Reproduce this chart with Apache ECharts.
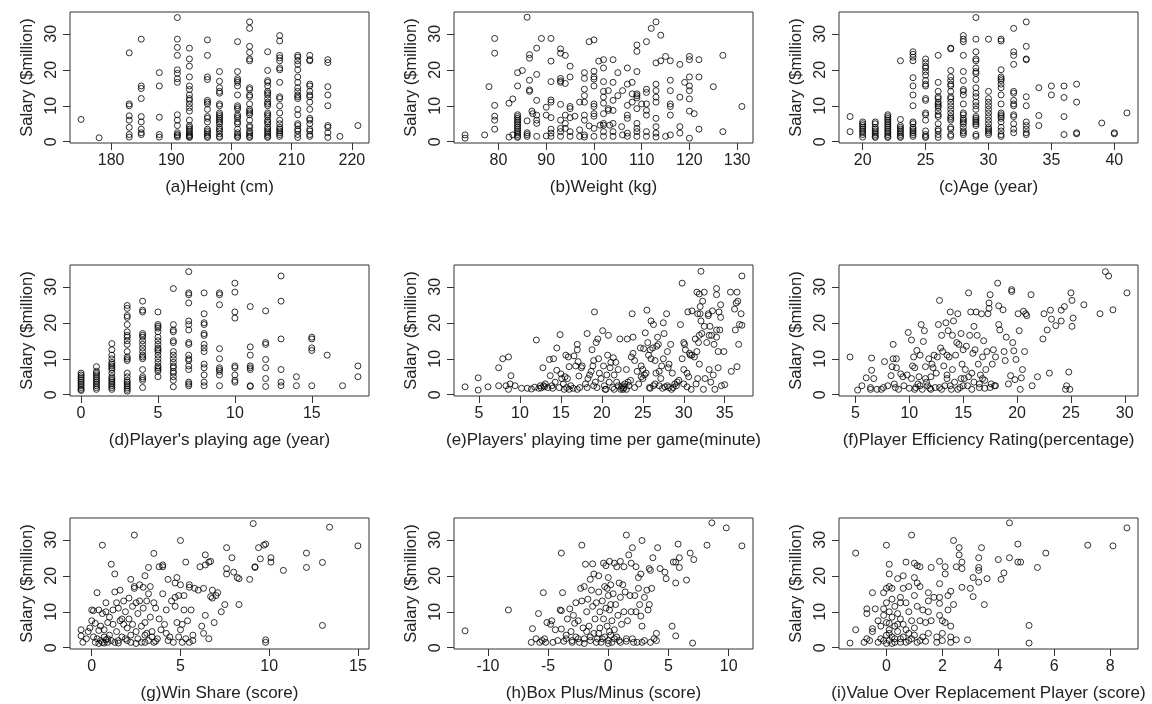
<!DOCTYPE html>
<html>
<head>
<meta charset="utf-8">
<script src="https://cdn.jsdelivr.net/npm/echarts@6/dist/echarts.min.js"></script>
<style>
html, body { margin: 0; padding: 0; background: #fff; }
#main { width: 1152px; height: 704px; }
</style>
</head>
<body>
<div id="main"></div>
<script>
// discrete columns: [x, [salaries...]]
var heightCols = [
  [175, [6.2]], [178, [1.1]],
  [183, [24.7, 10.5, 10, 7.2, 6, 4, 2, 1.3]],
  [185, [28.5, 15.5, 14.8, 12, 7, 5.5, 3.5, 2.5, 2]],
  [188, [19.2, 15.5, 6.8, 2, 1.3]],
  [191, [34.5, 28.5, 26.2, 24, 20, 19, 17.5, 16.5, 7.5, 6, 4.5, 2.5, 2, 1.7, 1.3]],
  [193, [26, 23, 21, 18, 15.5, 14.5, 13, 12, 11.5, 10.5, 9.5, 8.5, 6, 4.5, 4, 3.5, 3, 2.5, 2, 1.7, 1.4, 1.2]],
  [196, [28.3, 24, 18, 17.3, 11.5, 11, 10.5, 9, 7, 6.5, 5.5, 3.5, 3, 2.5, 2, 1.5, 1.2]],
  [198, [19.5, 16.8, 15, 14, 13.5, 10.5, 10, 8, 7.5, 7, 6.5, 6, 5.5, 5, 4, 3.5, 3, 2.2, 1.5, 1.2]],
  [201, [27.8, 19.5, 17.5, 17, 16.5, 15.5, 13, 10, 9.5, 9, 7.5, 7, 6.5, 5.5, 5, 3.5, 2.5, 2, 1.5, 1.2]],
  [203, [33.3, 31.5, 26.5, 24.8, 23, 22.5, 15, 14.5, 13, 12.5, 10.5, 9, 8.5, 8, 7.5, 6, 4.5, 4, 3, 2.5, 2, 1.5, 1.2]],
  [206, [25, 19.8, 17, 16.5, 15.5, 14, 13.5, 13, 12, 11, 10.5, 10, 8, 7.5, 7, 6, 5.5, 5, 4, 3.5, 3, 2.5, 2, 1.5, 1.2]],
  [208, [29.5, 28, 24, 23.3, 22.5, 20.5, 20, 16.5, 12.5, 12, 10, 8, 6, 5, 4, 3.5, 3, 2.5, 2, 1.5]],
  [211, [24, 23.5, 22.5, 21.5, 20, 18, 16.5, 15, 14, 13, 12.5, 12, 9, 7.5, 5, 4.5, 3.5, 3, 2, 1.2]],
  [213, [24, 22.8, 22.5, 16, 15.5, 14, 13, 12.5, 11, 9, 6.5, 6, 5, 3.5, 3, 2, 1.5]],
  [216, [22.8, 22, 15.3, 13, 10, 4.5, 4, 2.5, 1.2]],
  [218, [1.5]], [221, [4.5]]
];

var weightPts = [
  [73, 1.9], [73, 1.0], [77.1, 1.9], [78, 15.3], [79.2, 28.7], [79.2, 24.6], [79.2, 10.1], [79.2, 7.1], [79.2, 6.0], [79.2, 3.5],
  [82.2, 1.3], [82.2, 10.7], [83, 11.9], [83, 1.9],
  [84, 7.5], [84, 7], [84, 6.5], [84, 6], [84, 5.5], [84, 5], [84, 4.5], [84, 4], [84, 3.5], [84, 3], [84, 2.5], [84, 2], [84, 1.5], [84, 1.2],
  [84, 19.2], [84, 15.5], [85, 19.8], [86, 34.6], [86.5, 24.2], [86.5, 23.2], [86.5, 17.1], [86.5, 14.4], [86.5, 14], [86, 5.8], [86, 2.5], [86, 2], [86, 1.5],
  [87, 8.5], [87.2, 7.8], [88, 26], [88, 18.7], [88, 11.5], [88, 7.4], [88, 6], [88, 5.1], [88, 1.5], [89, 28.7],
  [90, 9.6], [90, 7.4], [90, 1.6], [91, 28.7], [91, 22.4], [91, 16.7], [91, 11.6], [91, 11], [91, 6.7], [91, 3.5], [91, 1.5], [91, 2.4],
  [93, 25.8], [93, 24.6], [93, 17.6], [93, 16.9], [93, 16.5], [93, 10.4], [93, 6], [93, 3.7], [93, 2.8], [93, 1.5],
  [94, 24], [94, 16.2], [94, 7.4], [94, 5.1], [94, 3.7], [95, 21], [95, 18], [95, 9.8], [95, 9.2], [95, 6.7], [95, 2.8], [95, 1.5],
  [96, 7.1], [97, 3.3], [97, 1.5], [97, 11], [98, 19.2], [98, 17.6], [98, 14.6], [98, 12.8], [98, 11], [98, 7.4], [98, 6], [98, 1.9], [98, 1.3],
  [99, 27.8], [99, 4.4], [100, 28.3], [100, 19.6], [100, 18], [100, 17.4], [100, 15.5], [100, 10.5], [100, 9.8], [100, 7.8], [100, 7.1], [100, 3.7], [100, 1.5],
  [101, 22.4], [101.3, 4.6], [102, 22.8], [102, 20.5], [102, 16.7], [102, 14], [102, 12.4], [102, 10.7], [102, 7.8], [102, 5.1], [102, 4.6], [102, 1.5], [102, 2.8],
  [103, 14.2], [103, 9.2], [103, 8.7], [103.3, 4.6], [104, 22.8], [104, 16.5], [104, 11.5], [104, 8.7], [104, 5.1], [104, 2.8], [104, 1.5],
  [105, 19.2], [105, 12.8], [105.8, 4.2], [106, 14.2], [106, 1.9], [107, 20.5], [107, 16], [107, 10.1], [107, 7.4], [107, 6.5], [107, 2.4], [107, 1.5],
  [108, 16.5], [108, 11], [108, 13.3], [109, 26.9], [109, 25.1], [109, 19.5], [109, 12.8], [109, 12.2], [109, 9.2], [109, 13.3], [109, 5.1], [109, 3.7], [109, 2.8], [109, 1.5],
  [110, 10.5], [111, 27.8], [111, 14.6], [111, 13.7], [111, 10.5], [111, 8.7], [111, 7.4], [111, 2.8], [111, 1.5], [112, 31.5],
  [113, 33.3], [113, 21.9], [113, 16], [113, 14.2], [113, 12.4], [113, 11], [113, 6.5], [113, 4.2], [113, 2.4], [113, 1.3],
  [114, 29.6], [114, 22.5], [115, 23.7], [115, 1.5], [116, 22.5], [116, 17.1], [116, 14.2], [116, 10.5], [116, 9.8], [116, 7.4], [116, 1.9],
  [118, 21.5], [118, 12.4], [118, 4.2], [118, 2.4], [119, 16.5], [120, 23.7], [120, 22.8], [120, 18], [120, 15.5], [120, 14.2], [120, 11.9], [120, 8.5], [120, 1],
  [121, 7.8], [122, 22.8], [122, 18], [122, 3.5], [125, 15.3], [127, 24], [127, 2.8], [131, 9.8]
];

var ageCols = [
  [19, [7, 2.8]],
  [20, [5.5, 5, 4.5, 4, 3.5, 3, 2.5, 2, 1.3]],
  [21, [5.5, 5, 4, 3.5, 3, 2.5, 2, 1.5, 1.2]],
  [22, [7.5, 7, 6.5, 6, 5.5, 5, 4.5, 4, 3.5, 3, 2.5, 2, 1.5, 1.2]],
  [23, [22.5, 6.2, 4.5, 4, 3.5, 3, 2.5, 2, 1.5, 1.2]],
  [24, [25, 24.3, 23.5, 22.5, 17.8, 15.5, 13, 10, 5.5, 5, 4, 3.5, 3, 2.5, 2, 1.5]],
  [25, [23, 22, 21, 20.5, 19.5, 18.5, 17, 16, 15.5, 12, 11.5, 8, 7.5, 6, 3, 2, 1.5, 1.2]],
  [26, [24, 16.5, 14, 12.5, 12, 11, 10.5, 10, 9.5, 8.5, 7.5, 7, 5, 3.5, 3, 2, 1.2]],
  [27, [26, 25.8, 19.8, 18, 17, 16, 15.5, 14, 12.5, 12, 11, 10, 9, 8, 7, 6.5, 6, 4, 3.5, 2, 1.5]],
  [28, [29.5, 28.5, 27.8, 24, 19.5, 17, 14.5, 14, 13, 10.5, 8, 7.5, 6.5, 6, 5.5, 5, 4, 3, 2.5, 2]],
  [29, [34.5, 28.5, 25, 23, 22.5, 20.5, 19.5, 19, 17.3, 15, 13.5, 12.5, 11, 10, 9, 7, 6.5, 6, 5.5, 5, 4.5, 2, 1.5]],
  [30, [28.5, 14, 12, 11, 10, 9, 8, 7, 6, 5, 4, 3.5, 3, 2.5, 2]],
  [31, [28.5, 28, 20, 18, 17.5, 17, 16, 15, 13, 10.5, 8, 7.5, 7, 6.5, 5.5, 4, 3, 2, 1.5]],
  [32, [31.5, 25, 24, 21.5, 14, 13.5, 11.5, 10.5, 10, 7.5, 7, 5, 3.5, 2.5]],
  [33, [33.3, 26.5, 23, 22.8, 12.5, 10, 5.5, 4.5, 3.5, 2.5, 2]],
  [34, [15, 7.3, 4.5]], [35, [15.5, 13]], [36, [15.5, 12.3, 7, 2]],
  [37, [16, 11, 2.5, 2.2]], [39, [5.2]], [40, [2.5, 2.2]], [41, [8]]
];

var playAgeCols = [
  [0, [6, 5.5, 5, 4.5, 4, 3.5, 3, 2.5, 2, 1.5, 1.2]],
  [1, [7.8, 6.5, 6, 5.5, 5, 4.5, 4, 3.5, 3, 2.5, 2, 1.5]],
  [2, [14.2, 12.5, 11, 10, 9, 8.5, 8, 7.5, 7, 6, 5, 4.5, 4, 3.5, 3, 2.5, 2, 1.5]],
  [3, [24.8, 24, 22, 21.5, 19.5, 17.5, 16.5, 16, 15, 14, 12, 10.5, 10, 9.5, 6, 5, 4, 3.5, 3, 2.5, 2, 1.5, 1]],
  [4, [26, 23.5, 23, 17, 16.5, 16, 15, 14, 13, 12, 11, 10.5, 10, 7, 5, 4.5, 4, 2]],
  [5, [23, 19.5, 19, 18.5, 17.5, 16, 15, 14, 13, 12.5, 12, 11, 10, 9, 8, 7.5, 7, 6.5, 5]],
  [6, [29.5, 19.5, 18, 17.5, 15, 14.5, 12, 11, 10, 9, 8, 7.5, 6.5, 6, 5, 4, 2.2]],
  [7, [34.2, 28.3, 27.8, 25.5, 20.5, 19.5, 18, 14.5, 14, 11, 10, 9.5, 8, 7, 3.5, 3, 2.5]],
  [8, [28.3, 22.5, 20, 19.5, 17, 16.5, 14, 13, 12, 8.5, 7.5, 5.5, 3.5, 2.5]],
  [9, [28.3, 27.8, 25, 12.8, 10, 7.5, 7, 6.5, 5.5, 2.5]],
  [10, [31, 28.5, 23, 21.3, 8, 7.5, 5.5, 4, 3.5]],
  [11, [24.5, 13.3, 11, 8, 7.5, 7, 2.5, 2.3]],
  [12, [23.3, 14.5, 14, 9.8, 7.5, 4.5, 2.3]],
  [13, [33, 26, 15.5, 7, 3.5, 2.5]],
  [14, [5, 2.5]], [15, [16, 15.5, 13, 12.3, 2.5]], [16, [11]], [17, [2.5]], [18, [8, 5]]
];

var minutesPts = [
  [3.3, 2.2], [4.9, 4.7], [4.9, 1.3], [6.1, 2.2], [7.4, 7.5], [7.4, 2.5], [7.9, 10], [8.3, 2.5], [8.6, 10.5], [8.6, 1.5], [8.8, 3], [8.9, 5.3], [9.4, 2.5],
  [10.2, 1.8], [10.9, 1.8], [11.4, 1.6], [11.8, 2.1], [12, 15.2], [12.3, 1.8], [12.6, 1.9], [12.8, 7.5], [12.9, 2.5], [13.1, 3], [13.4, 2], [13.6, 9.8],
  [13.7, 5.3], [13.9, 2.5], [14.1, 10], [14.3, 3.5], [14.5, 13], [14.5, 6.8], [14.8, 2], [14.9, 16.7], [15, 5.8], [15.1, 4.5], [15.3, 3], [15.4, 1.5],
  [15.5, 5], [15.6, 11], [15.7, 2], [15.8, 4.5], [15.9, 10.5], [16, 7.8], [16.2, 2.5], [16.5, 1.8], [16.6, 10.8], [16.8, 8], [17, 14], [17, 12.5],
  [17.1, 9.2], [17.2, 5.2], [17.3, 2], [17.5, 7.5], [17.6, 8], [18, 3], [18.2, 17], [18.3, 4.5], [18.5, 5.5], [18.7, 6.5], [18.8, 12.5], [18.9, 8],
  [19, 9.5], [19.1, 23], [19.2, 3.5], [19.3, 14.5], [19.4, 2], [19.5, 15.5], [19.6, 10], [19.7, 6], [19.9, 4.5], [20.1, 17.8], [20.2, 8], [20.3, 2.5],
  [20.4, 1.5], [20.5, 1.5], [20.6, 5.5], [20.7, 11], [20.8, 16.5], [20.9, 3.5], [21, 7.5], [21.1, 9], [21.3, 2], [21.4, 10.3], [21.5, 5.5], [21.7, 9],
  [21.8, 3.5], [22, 7], [22.2, 15.5], [22.3, 1.5], [22.4, 2], [22.5, 2.5], [22.6, 1.5], [22.8, 3], [23, 7], [23.1, 15.5], [23.2, 3.5], [23.3, 2.5],
  [23.5, 4], [23.6, 10.5], [23.7, 22.5], [23.8, 11.5], [23.8, 16], [24, 9.5], [24.3, 6.5], [24.5, 3], [24.7, 13], [24.8, 8], [24.8, 5], [25, 4.5],
  [25, 7], [25.1, 12.8], [25.2, 5.5], [25.3, 17.2], [25.4, 6], [25.5, 23.5], [25.6, 14.5], [25.7, 11], [25.8, 2], [25.9, 12.5], [26, 20.5], [26, 10],
  [26.2, 13], [26.3, 19.5], [26.5, 3], [26.5, 9.5], [26.6, 6], [26.7, 13.5], [26.8, 16], [26.9, 14], [27, 6.5], [27, 2.5], [27.2, 4.5], [27.3, 8],
  [27.5, 20], [27.5, 10], [27.6, 17], [27.7, 2.2], [27.9, 22.5], [28, 12], [28, 2.5], [28.1, 7.5], [28.2, 8.5], [28.4, 14], [28.5, 1.5], [28.6, 6],
  [28.7, 2], [28.9, 3], [29.1, 2.5], [29.4, 4], [29.6, 19.5], [29.8, 31], [29.8, 10], [30, 14.5], [30, 7], [30.1, 14], [30.2, 12.5], [30.4, 2.2],
  [30.4, 6], [30.5, 23], [30.6, 5], [30.7, 11.5], [30.8, 11], [30.9, 1.5], [31, 23.3], [31, 11], [31.3, 10.5], [31.4, 15.5], [31.5, 3], [31.6, 28.5],
  [31.6, 12], [31.7, 22.5], [31.7, 4.5], [31.8, 14.5], [31.9, 8.5], [31.9, 28], [31.9, 16.5], [32, 22.5], [32, 24.5], [32.1, 34.3], [32.1, 20.5],
  [32.2, 17], [32.3, 26], [32.4, 1.5], [32.5, 28.5], [32.5, 19], [32.6, 4.5], [32.8, 14.5], [33, 22], [33, 22.5], [33.1, 7], [33.1, 16.5], [33.2, 19],
  [33.3, 3.5], [33.4, 16.5], [33.5, 23.3], [33.6, 5.5], [33.7, 14], [33.8, 1.5], [34, 16], [34, 29.5], [34, 27.8], [34, 18], [34.2, 12], [34.2, 7.5],
  [34.3, 23], [34.4, 18], [34.5, 25], [34.5, 21.5], [34.6, 2.5], [34.9, 12], [35, 2.8], [35.7, 28.5], [35.8, 6.5], [36.2, 23.8], [36.3, 18],
  [36.4, 25.5], [36.5, 28.5], [36.5, 7.8], [36.6, 26], [36.7, 14], [36.8, 19.5], [37, 22.5], [37.1, 33], [37.1, 19.3],
  [16, 1.5], [17, 1.5], [18.2, 2], [19, 2.5], [21.5, 1.5], [22, 2.5], [22.7, 2], [23, 1.5], [24, 2], [25.9, 1.8], [26.3, 2.5], [27.4, 1.8],
  [28.2, 2], [29.2, 3.5], [30, 3], [13, 2.2], [14, 1.8], [12.5, 2.5]
];

var perPts = [
  [4.5, 10.5], [5.2, 1.3], [5.6, 2.5], [6, 4.7], [6.4, 2], [6.4, 1.5], [6.5, 10.2], [6.5, 6.8], [6.7, 4.5], [7, 1.5], [7.4, 1.5], [7.6, 2], [7.7, 9.2],
  [8, 2.5], [8.3, 5.3], [8.4, 7.8], [8.5, 10], [8.5, 14], [8.6, 3], [8.7, 2], [8.8, 10], [8.8, 7.5], [9, 1.5], [9.2, 5.8], [9.4, 5], [9.5, 2.5],
  [9.8, 5.5], [9.9, 17.3], [10, 1.8], [10.2, 15.2], [10.2, 4.5], [10.3, 8], [10.4, 10.5], [10.5, 7.5], [10.6, 2], [10.7, 12.3], [10.8, 3], [10.9, 5],
  [11, 11], [11.1, 19.5], [11.2, 1.5], [11.3, 14.8], [11.4, 17.8], [11.5, 7.8], [11.6, 3.5], [11.7, 2.5], [11.8, 10], [11.9, 1.8], [12, 5], [12.1, 8.5],
  [12.2, 7.5], [12.3, 11], [12.4, 2], [12.5, 6], [12.6, 10.5], [12.7, 19.5], [12.8, 26.2], [12.9, 13], [13, 16.5], [13.1, 12], [13.2, 8], [13.3, 2.5],
  [13.4, 20], [13.5, 11], [13.5, 4.5], [13.6, 17.8], [13.7, 10.5], [13.8, 23], [13.9, 1.5], [14, 16.5], [14, 7], [14.1, 20.5], [14.2, 3.5], [14.3, 11],
  [14.4, 14.5], [14.5, 22.5], [14.6, 14], [14.7, 2], [14.8, 17], [14.9, 8.5], [15, 12.5], [15.1, 4.5], [15.2, 7], [15.3, 13.5], [15.4, 2.5], [15.5, 28.3],
  [15.6, 16.5], [15.7, 23], [15.8, 6], [15.9, 11.5], [16, 19], [16, 3.5], [16.1, 12.5], [16.2, 23], [16.3, 16.5], [16.4, 8.5], [16.5, 2], [16.6, 5.5],
  [16.7, 22.5], [16.8, 10.5], [16.9, 15], [17, 4], [17.1, 7], [17.2, 12], [17.3, 22.5], [17.4, 25.5], [17.4, 24], [17.5, 27.8], [17.6, 3], [17.7, 8.5],
  [17.8, 12.5], [17.9, 2.5], [18, 10.5], [18.2, 31], [18.3, 24.7], [18.3, 19.5], [18.4, 18], [18.7, 23.6], [18.8, 12], [18.9, 9.5], [19, 16], [19.2, 3],
  [19.4, 5.3], [19.5, 29.2], [19.5, 28.7], [19.6, 14.5], [19.7, 12.2], [19.8, 4.2], [19.9, 9.8], [20.1, 22.5], [20.2, 17.8], [20.3, 1.5], [20.4, 4.7],
  [20.5, 7], [20.6, 23.2], [20.7, 12], [20.8, 22.5], [20.9, 22], [21.3, 27.8], [21.4, 2.5], [21.9, 5], [22.4, 15.5], [22.5, 22.5], [22.8, 18], [23, 6],
  [23.1, 23.5], [23.2, 21], [23.6, 19.2], [24.1, 20.5], [24.1, 23.5], [24.4, 24.5], [24.5, 1.5], [24.6, 2.5], [24.8, 6.3], [24.9, 1.5], [25, 28.3],
  [25.1, 26.2], [25.1, 19], [25.2, 21.3], [26.2, 25], [27.7, 22.5], [28.2, 34.2], [28.5, 33], [28.9, 23.6], [30.2, 28.3],
  [10.5, 1.5], [11, 2.5], [12, 1.5], [12.8, 2], [13, 1.5], [13.8, 2.5], [14.5, 1.5], [15, 2.5], [15.8, 1.5], [16.5, 3], [17, 1.8], [17.5, 2], [18, 2.5],
  [14.8, 4.5], [15.5, 5], [16.8, 4.5], [13.5, 5.5], [11.5, 4.5]
];

var winSharePts = [
  [-0.6, 5], [-0.6, 3.3], [-0.5, 1.5], [-0.3, 2.5], [-0.2, 4.5], [-0.1, 5.5], [0, 7.5], [0, 10.5], [0.1, 10.3], [0.1, 3], [0.2, 6.8], [0.2, 1.5],
  [0.3, 15.3], [0.3, 2.5], [0.4, 10.5], [0.4, 4.8], [0.5, 6], [0.5, 2], [0.6, 1.5], [0.6, 28.5], [0.6, 9.5], [0.7, 5], [0.7, 3], [0.8, 12.5], [0.8, 2.2],
  [0.8, 10], [0.9, 7], [0.9, 1.5], [1, 3.5], [1, 8.5], [1.1, 23.2], [1.1, 2], [1.2, 6.5], [1.2, 10.5], [1.3, 20.5], [1.3, 15.5], [1.3, 1.5], [1.4, 12.5],
  [1.4, 4.5], [1.5, 11], [1.5, 2], [1.6, 16], [1.6, 7.5], [1.7, 8], [1.7, 3], [1.8, 6.5], [1.8, 13], [1.9, 10], [2, 5.5], [2, 2], [2.1, 13.8], [2.1, 8],
  [2.2, 19], [2.2, 1.5], [2.3, 11.5], [2.3, 6.5], [2.4, 17], [2.4, 31.3], [2.4, 16.5], [2.5, 4.5], [2.5, 12.5], [2.6, 9.5], [2.6, 2.5], [2.7, 17.5],
  [2.7, 13], [2.8, 6], [2.8, 1.5], [2.9, 16.8], [2.9, 11], [3, 20], [3, 7], [3, 3.5], [3.1, 13], [3.1, 4], [3.2, 15], [3.2, 22.3], [3.2, 2], [3.3, 8.5],
  [3.3, 17], [3.4, 4.5], [3.5, 26.2], [3.5, 12.5], [3.5, 1.5], [3.6, 11], [3.7, 2.5], [3.8, 22.5], [3.8, 8], [3.9, 5], [4, 23], [4, 22.5], [4, 15],
  [4.1, 6.5], [4.2, 10.5], [4.2, 4], [4.3, 19], [4.3, 2], [4.4, 3], [4.5, 13], [4.6, 1.5], [4.7, 18], [4.7, 14], [4.7, 11.5], [4.8, 7], [4.8, 19.5],
  [4.9, 14.5], [4.9, 3], [5, 29.8], [5, 17.5], [5, 5], [5.1, 6.5], [5.1, 1.5], [5.2, 10.5], [5.2, 14.5], [5.3, 23.8], [5.3, 2.5], [5.4, 7.5], [5.5, 17.5],
  [5.5, 16.8], [5.5, 1.5], [5.6, 10.5], [5.7, 3.5], [5.7, 2], [5.8, 16.5], [6, 16], [6.1, 22.5], [6.2, 6], [6.3, 16.5], [6.3, 4], [6.4, 25.8], [6.4, 9],
  [6.4, 23], [6.6, 2.5], [6.6, 23.8], [6.7, 24], [6.7, 14.2], [6.8, 16], [6.8, 13.8], [6.9, 7], [7, 14.5], [7.1, 15.3], [7.3, 10], [7.5, 12], [7.6, 27.8],
  [7.6, 22], [7.6, 20.5], [7.9, 25], [8, 21], [8.2, 19.5], [8.3, 19.2], [8.3, 12], [8.9, 19], [9.1, 34.5], [9.2, 22.5], [9.2, 22.3], [9.4, 27.8],
  [9.5, 24.7], [9.7, 28.5], [9.8, 28.8], [9.8, 2.2], [9.8, 1.5], [10.1, 25], [10.1, 23.8], [10.8, 21.5], [12.1, 26.3], [12.1, 22.3], [13, 23.7],
  [13, 6.2], [13.4, 33.5], [15, 28.3],
  [0.4, 1.2], [0.7, 1.3], [1.5, 1.3], [2.5, 1.2], [3, 1.5], [3.6, 1.8], [1.9, 2.5], [0.9, 2.5], [2.2, 3.5], [3.4, 3]
];

var bpmPts = [
  [-11.9, 4.7], [-8.3, 10.5], [-6.4, 1.5], [-6.3, 5.3], [-6, 2.5], [-5.8, 9.5], [-5.7, 1.5], [-5.5, 2], [-5.4, 15.3], [-5.3, 2.5], [-5.2, 1.5], [-5.1, 7],
  [-4.8, 6.5], [-4.7, 7.5], [-4.6, 1.5], [-4.4, 5], [-4.2, 2], [-4, 10.5], [-3.9, 26.3], [-3.9, 10.3], [-3.9, 5.2], [-3.8, 15.3], [-3.7, 1.8], [-3.5, 2.5],
  [-3.4, 8], [-3.2, 10.8], [-3.1, 4.5], [-3, 2], [-2.9, 9], [-2.8, 6.8], [-2.7, 12.5], [-2.7, 3], [-2.5, 7.5], [-2.4, 1.5], [-2.3, 16.5], [-2.2, 28.5],
  [-2.2, 13], [-2.1, 5.5], [-2, 17], [-2, 2.5], [-1.9, 23.2], [-1.8, 10], [-1.7, 13.5], [-1.6, 6], [-1.5, 19], [-1.5, 2], [-1.4, 16], [-1.3, 11.5],
  [-1.3, 23.3], [-1.2, 20.5], [-1.2, 4], [-1.1, 8], [-1, 12.5], [-0.9, 2.5], [-0.8, 20], [-0.8, 15.5], [-0.7, 10], [-0.7, 5.5], [-0.6, 1.5], [-0.5, 13],
  [-0.4, 23.5], [-0.4, 8], [-0.3, 17], [-0.3, 3], [-0.2, 11], [-0.2, 22.8], [-0.1, 16.5], [-0.1, 6], [0, 19.5], [0, 14.5], [0, 2], [0.1, 10.5],
  [0.1, 24], [0.1, 4.5], [0.2, 12], [0.2, 17.5], [0.3, 7.5], [0.3, 1.5], [0.4, 15], [0.5, 23.5], [0.5, 5], [0.6, 12], [0.7, 22.5], [0.7, 3], [0.8, 9],
  [0.9, 18], [0.9, 2], [1, 14], [1, 24], [1.1, 6.5], [1.2, 17.5], [1.3, 10], [1.3, 22.5], [1.4, 15.5], [1.5, 31.3], [1.5, 2.5], [1.6, 7.5], [1.7, 25.8],
  [1.8, 14.5], [1.9, 23.5], [1.9, 10], [2, 27.8], [2.1, 1.5], [2.2, 14.5], [2.3, 10], [2.3, 22.5], [2.4, 1.5], [2.5, 16.5], [2.5, 19.5], [2.6, 12],
  [2.7, 20.5], [2.7, 8.8], [2.8, 29.8], [2.8, 6], [3, 14], [3, 2], [3.2, 16], [3.3, 10.5], [3.4, 22], [3.4, 12], [3.5, 21.5], [3.6, 16.5], [3.7, 25],
  [3.8, 2.5], [4, 4], [4.1, 27.8], [4, 2], [4.3, 22], [4.7, 21], [4.8, 19.2], [5.3, 6], [5.4, 23.8], [5.6, 23.8], [5.6, 3.3], [5.6, 18], [5.8, 28.8],
  [5.9, 25], [5.9, 22.3], [6.5, 18.8], [6.8, 26.3], [7, 1.3], [7.1, 24.5], [8.2, 28.5], [8.6, 34.7], [9.8, 33.3], [11.1, 28.3],
  [-3, 1.5], [-2.5, 2.5], [-2, 1.2], [-1.5, 3], [-1, 1.5], [-0.5, 2.5], [0, 1.2], [0.5, 2.5], [1, 1.5], [1.5, 1.8], [2, 2.5], [2.8, 1.5], [3.5, 1.5],
  [-3.5, 3.5], [-1.8, 4.5], [0.2, 3.5], [-0.8, 4]
];

var vorpPts = [
  [-1.3, 1.3], [-1.1, 26.3], [-1.1, 5], [-0.8, 1.5], [-0.7, 2.5], [-0.7, 10.8], [-0.7, 9.5], [-0.6, 2], [-0.5, 15.3], [-0.5, 5.3], [-0.5, 4.5],
  [-0.4, 10.8], [-0.3, 7.5], [-0.3, 1.5], [-0.2, 6], [-0.2, 2.5], [-0.1, 15.3], [-0.1, 10.8], [0, 28.5], [0, 16.5], [0, 12.5], [0, 7], [0, 1.2],
  [0.1, 23.2], [0.1, 20.5], [0.1, 17], [0.1, 10], [0.1, 5], [0.1, 2], [0.2, 13.5], [0.2, 8.5], [0.2, 3], [0.2, 16.5], [0.3, 6], [0.3, 11.5], [0.3, 1.5],
  [0.4, 19.2], [0.4, 9.5], [0.4, 4.5], [0.5, 14], [0.5, 2.5], [0.5, 12.5], [0.6, 16.5], [0.6, 6.5], [0.6, 20], [0.7, 23.8], [0.7, 12.5], [0.7, 1.5],
  [0.8, 17], [0.8, 10], [0.8, 4], [0.9, 31.3], [0.9, 7.5], [0.9, 2.5], [1, 23.5], [1, 19.5], [1, 14.5], [1, 5.5], [1.1, 22.8], [1.1, 18], [1.1, 11.5],
  [1.1, 1.5], [1.2, 22.5], [1.2, 17], [1.2, 7.5], [1.3, 10.5], [1.3, 3], [1.4, 7], [1.4, 1.8], [1.5, 15.3], [1.5, 13], [1.5, 10], [1.5, 4], [1.6, 22.3],
  [1.6, 7.5], [1.7, 14], [1.8, 3], [1.8, 1.5], [1.9, 24], [1.9, 17.8], [1.9, 14], [1.9, 12.3], [1.9, 9], [2, 7.5], [2, 4], [2, 2], [2.1, 22.5], [2.1, 20.5],
  [2.1, 7], [2.2, 14.5], [2.2, 10.5], [2.3, 15.7], [2.3, 6], [2.3, 3], [2.3, 1.5], [2.4, 29.8], [2.4, 12], [2.5, 22.5], [2.5, 2.2], [2.6, 27.8],
  [2.6, 25.8], [2.7, 23.8], [2.7, 22], [2.7, 16.8], [2.9, 2.2], [3, 16.5], [3.1, 19.5], [3.1, 14.2], [3.3, 25], [3.3, 22.3], [3.3, 21.5], [3.3, 18.2],
  [3.4, 27.8], [3.5, 12], [3.6, 19.2], [4, 24.5], [4.1, 19], [4.2, 20.8], [4.4, 34.7], [4.4, 25], [4.7, 28.8], [4.7, 23.8], [4.8, 23.8], [5.1, 6.2],
  [5.1, 1.3], [5.4, 22.3], [5.7, 26.3], [7.2, 28.5], [8.1, 28.3], [8.6, 33.3],
  [0, 3.5], [0.1, 4], [-0.1, 2], [0.2, 1.2], [0.3, 2.5], [0.5, 1.5], [0.6, 3], [0.7, 5], [0.8, 2], [1, 3.5], [1.2, 2], [0.4, 6.5], [0.1, 6.8], [-0.1, 9], [0.5, 8]
];

var salaryTicks = [0, 10, 20, 30];
var xTicks = [
  [180, 190, 200, 210, 220],
  [80, 90, 100, 110, 120, 130],
  [20, 25, 30, 35, 40],
  [0, 5, 10, 15],
  [5, 10, 15, 20, 25, 30, 35],
  [5, 10, 15, 20, 25, 30],
  [0, 5, 10, 15],
  [-10, -5, 0, 5, 10],
  [0, 2, 4, 6, 8]
];
var xNames = [
  '(a)Height (cm)', '(b)Weight (kg)', '(c)Age (year)',
  "(d)Player's playing age (year)", "(e)Players' playing time per game(minute)", '(f)Player Efficiency Rating(percentage)',
  '(g)Win Share (score)', '(h)Box Plus/Minus (score)', '(i)Value Over Replacement Player (score)'
];

function expandCols(cols) {
  var out = [];
  cols.forEach(function (c) {
    c[1].forEach(function (v) { out.push([c[0], v]); });
  });
  return out;
}

var panels = [
  expandCols(heightCols), weightPts, expandCols(ageCols),
  expandCols(playAgeCols), minutesPts, perPts,
  winSharePts, bpmPts, vorpPts
];

// R style axis range: data range extended by 4% each side
function rRange(vals) {
  var lo = Math.min.apply(null, vals), hi = Math.max.apply(null, vals);
  var d = (hi - lo) * 0.04;
  return [lo - d, hi + d];
}
var allY = [];
panels.forEach(function (p) { p.forEach(function (d) { allY.push(d[1]); }); });
var yRange = rRange(allY);

var font = "'Liberation Sans', Arial, sans-serif";
var ink = '#222';
var lefts = [70, 454, 839];
var tops = [12, 265, 518];

var grids = [], xAxes = [], yAxes = [], series = [];
panels.forEach(function (pts, i) {
  var r = Math.floor(i / 3), c = i % 3;
  var xr = rRange(pts.map(function (d) { return d[0]; }));
  grids.push({
    left: lefts[c], top: tops[r], width: 299, height: 131,
    show: true, borderColor: '#333', borderWidth: 1, backgroundColor: 'transparent'
  });
  xAxes.push({
    gridIndex: i, type: 'value', min: xr[0], max: xr[1],
    name: xNames[i], nameLocation: 'middle', nameGap: 36,
    nameTextStyle: { color: ink, fontSize: 17, fontFamily: font },
    axisLine: { show: false, onZero: false },
    axisTick: { show: true, length: 7, customValues: xTicks[i], lineStyle: { color: '#333' } },
    axisLabel: { customValues: xTicks[i], color: ink, fontSize: 16, fontFamily: font, margin: 10 },
    splitLine: { show: false }
  });
  yAxes.push({
    gridIndex: i, type: 'value', min: yRange[0], max: yRange[1],
    name: 'Salary ($million)', nameLocation: 'middle', nameGap: 34, nameRotate: 90,
    nameTextStyle: { color: ink, fontSize: 16.5, fontFamily: font },
    axisLine: { show: false, onZero: false },
    axisTick: { show: true, length: 7, customValues: salaryTicks, lineStyle: { color: '#333' } },
    axisLabel: { customValues: salaryTicks, rotate: 90, color: ink, fontSize: 16, fontFamily: font, margin: 10 },
    splitLine: { show: false }
  });
  series.push({
    type: 'scatter', xAxisIndex: i, yAxisIndex: i, data: pts,
    symbol: 'circle', symbolSize: 6,
    itemStyle: { color: 'rgba(0,0,0,0)', borderColor: '#000', borderWidth: 1 },
    silent: true
  });
});

var chart = echarts.init(document.getElementById('main'));
chart.setOption({
  backgroundColor: '#fff',
  animation: false,
  grid: grids,
  xAxis: xAxes,
  yAxis: yAxes,
  series: series
});
</script>
</body>
</html>
